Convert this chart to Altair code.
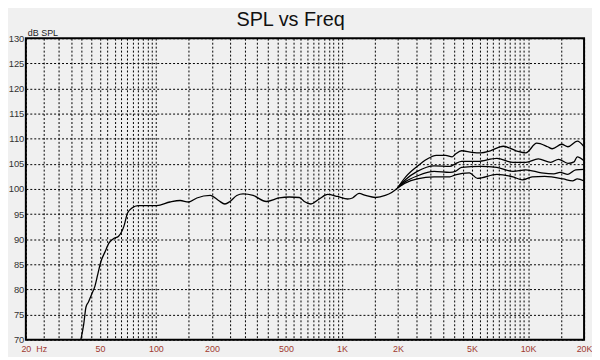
import altair as alt
import pandas as pd

# ---- data ----
main_freq = [39.5, 40.9, 42.1, 43.4, 45.1, 46.9, 48.7, 50.6, 53.3, 56.1, 59.1, 63.0, 67.2, 70.4,
             74.4, 80.1, 89.5, 101, 119, 135, 150, 166, 196, 217, 235, 250, 272, 294, 333, 392,
             460, 521, 590, 627, 681, 755, 837, 948, 1072, 1139, 1235, 1339, 1513, 1708, 1850, 1990]
main_spl = [70.0, 73.0, 76.5, 77.5, 79.0, 80.5, 83.0, 85.5, 87.5, 89.3, 90.1, 90.6, 92.5, 95.2,
            96.2, 96.7, 96.7, 96.7, 97.4, 97.7, 97.4, 98.2, 98.7, 97.7, 97.0, 97.5, 98.7, 99.0, 98.7, 97.5,
            98.2, 98.4, 98.3, 97.5, 97.0, 98.0, 98.9, 98.5, 98.0, 98.2, 99.1, 98.7, 98.3, 98.7, 99.3, 100.2]

a_freq = [1990, 2200, 2540, 2856, 3211, 3611, 3906, 4064, 4395, 5000, 5565, 6272, 7360, 8630, 9730,
          11130, 12740, 13500, 15170, 16380, 18380, 20000]
a_spl = [100.2, 102.4, 104.5, 105.9, 106.7, 106.7, 106.4, 106.9, 107.6, 107.3, 107.2, 107.6, 108.5, 107.6, 107.2,
         109.1, 108.4, 108.0, 108.9, 108.4, 109.5, 108.4]

b_freq = [1990, 2200, 2540, 3125, 3800, 4064, 4395, 5350, 6800, 8300, 9730, 11350, 13240, 14580, 16380,
          17680, 18380, 20000]
b_spl = [100.2, 101.9, 103.5, 104.6, 104.5, 105.0, 105.5, 105.5, 106.1, 105.3, 105.3, 106.0, 105.3, 105.9, 105.1,
         105.4, 106.4, 105.6]

c_freq = [1990, 2200, 2540, 3125, 3800, 4064, 4395, 5565, 6800, 8300, 9730, 11800, 13770, 14860, 16380,
          18030, 20000]
c_spl = [100.2, 101.5, 102.6, 103.5, 103.3, 103.5, 104.3, 104.5, 104.3, 103.5, 103.8, 103.2, 103.0, 103.3, 102.9,
         103.8, 103.9]

d_freq = [1990, 2200, 2540, 3125, 3800, 4064, 4840, 5350, 6800, 8300, 9340, 10510, 12270, 15460, 17350,
          18380, 20000]
d_spl = [100.2, 101.2, 102.0, 102.4, 102.4, 102.8, 103.2, 102.1, 102.9, 102.4, 101.8, 102.4, 102.5, 102.0, 101.6,
         102.0, 101.6]

x_label_values = [20, 50, 100, 200, 500, 1000, 2000, 5000, 10000, 20000]
x_grid_values = ([20 + 5 * i for i in range(17)] + [150 + 50 * i for i in range(18)]
                 + [1500 + 500 * i for i in range(18)] + [15000, 20000])
y_values = [70, 75, 80, 85, 90, 95, 100, 105, 110, 115, 120, 125, 130]

title_text = "SPL vs Freq"
y_unit = "dB SPL"
x_unit = "Hz"

# ---- table ----
rows = []
for name, fs, ss in [("main", main_freq, main_spl), ("a", a_freq, a_spl), ("b", b_freq, b_spl),
                     ("c", c_freq, c_spl), ("d", d_freq, d_spl)]:
    for f, s in zip(fs, ss):
        rows.append({"f": f, "spl": s, "series": name})
df = pd.DataFrame(rows)

W, H = 563, 304
FONT = "Liberation Sans"
RED = "#a03a30"

label_list = ",".join(str(v) for v in x_label_values)
label_expr = (f"indexof([{label_list}], datum.value) >= 0 ? "
              "(datum.value >= 1000 ? (datum.value/1000) + 'K' : '' + datum.value) : ''")

x = alt.X("f:Q", scale=alt.Scale(type="log", domain=[20, 20000]),
          axis=alt.Axis(values=x_grid_values, labelExpr=label_expr, title=None, grid=True,
                        gridDash=[2, 2], gridColor="#000000", gridWidth=1, gridOpacity=1,
                        tickSize=0, domain=False, labelColor=RED, labelFontSize=9, labelFont=FONT,
                        labelPadding=5, labelOverlap=False, labelFlush=False))
y = alt.Y("spl:Q", scale=alt.Scale(domain=[70, 130], nice=False, zero=False),
          axis=alt.Axis(values=y_values, title=None, grid=True, gridDash=[2, 2], gridColor="#000000",
                        gridWidth=1, gridOpacity=1, tickSize=0, domain=False, labelColor="#333333",
                        labelFontSize=9.5, labelFont=FONT, labelPadding=2))

lines = alt.Chart(df).mark_line(interpolate="monotone", color="#000000", strokeWidth=1.3,
                                clip=True).encode(x=x, y=y, detail="series:N")

title = alt.Chart(pd.DataFrame({"t": [title_text]})).mark_text(
    font=FONT, fontSize=20, color="#111111", align="center", baseline="alphabetic"
).encode(x=alt.value(267), y=alt.value(-12), text="t:N")

yunit = alt.Chart(pd.DataFrame({"t": [y_unit]})).mark_text(
    font=FONT, fontSize=9, color="#222222", align="left", baseline="middle"
).encode(x=alt.value(2), y=alt.value(-5), text="t:N")

xunit = alt.Chart(pd.DataFrame({"t": [x_unit]})).mark_text(
    font=FONT, fontSize=9, color=RED, align="center", baseline="middle"
).encode(x=alt.value(16), y=alt.value(H + 9), text="t:N")

chart = alt.layer(lines, title, yunit, xunit).properties(
    width=W, height=H,
    autosize=alt.AutoSizeParams(type="none"),
    padding={"left": 18, "top": 29, "right": 8, "bottom": 16},
    background="#f0f0f0",
).configure_view(stroke="#000000", strokeWidth=2)

chart.save("out.html", embed_options={"renderer": "svg", "actions": False})
